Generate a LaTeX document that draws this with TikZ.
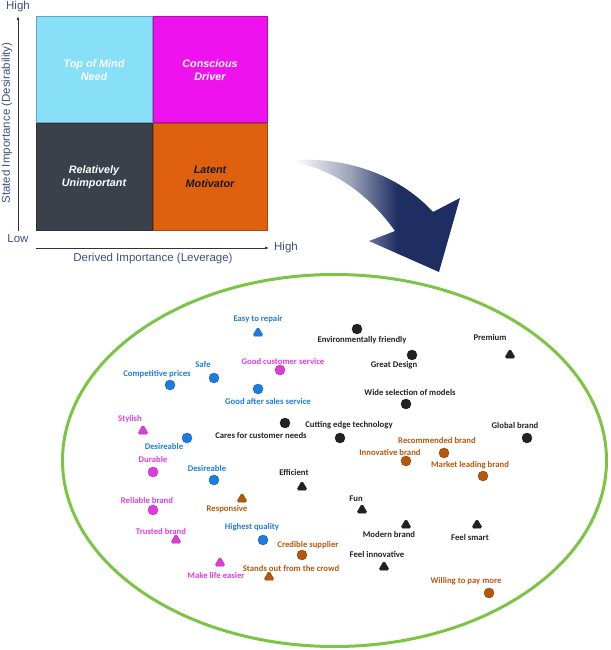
\documentclass[tikz,border=0pt]{standalone}
\usepackage{fontspec}
\setmainfont{Liberation Sans}
\newfontfamily\calib{Carlito}
\usetikzlibrary{shapes.geometric,arrows.meta}
\definecolor{axisblue}{HTML}{3E5082}
\definecolor{axisline}{HTML}{333333}
\definecolor{cellcyan}{HTML}{87DFF8}
\definecolor{cellmag}{HTML}{EE12EE}
\definecolor{celldark}{HTML}{3A414A}
\definecolor{cellorange}{HTML}{DF600F}
\definecolor{arrownavy}{HTML}{1E2E62}
\definecolor{ellgreen}{HTML}{7CC443}
\definecolor{ptblue}{HTML}{1C7DE0}
\definecolor{ptmag}{HTML}{E03CDC}
\definecolor{ptorange}{HTML}{B5580C}
\definecolor{ptblack}{HTML}{222222}
\pgfdeclarehorizontalshading{arrowshade}{100bp}{color(0bp)=(white); color(25bp)=(white); color(42bp)=(arrownavy!45); color(56bp)=(arrownavy); color(100bp)=(arrownavy)}
\tikzset{
  cell/.style={fill=#1, draw=#1!75!black, line width=1pt, inner sep=0pt, align=center,
    font=\fontsize{10.8}{13.5}\selectfont\bfseries\itshape},
  axislab/.style={text=axisblue, font=\fontsize{11.5}{13}\selectfont, inner sep=0pt},
  lab/.style={text=#1, font=\calib\bfseries\fontsize{8.7}{10}\selectfont, inner sep=0pt},
  circ/.style={circle, fill=#1, draw=#1!75!black, line width=0.4pt, minimum size=10pt, inner sep=0pt},
  tri/.style={regular polygon, regular polygon sides=3, fill=#1, draw=#1!75!black, line width=0.4pt,
    minimum size=12.5pt, inner sep=0pt, rounded corners=1.8pt},
}
\begin{document}
\begin{tikzpicture}[x=1pt, y=-1pt]
\useasboundingbox (0,0) rectangle (610,650);
% ---------- matrix ----------
\node[cell=cellcyan, minimum width=116pt, minimum height=106pt, text=white] (tl) at (94,70) {Top of Mind\\Need};
\node[cell=cellmag, minimum width=114pt, minimum height=106pt, text=white] (tr) at (210,70) {Conscious\\Driver};
\node[cell=celldark, minimum width=116pt, minimum height=106pt, text=white] (bl) at (94,177) {Relatively\\Unimportant};
\node[cell=cellorange, minimum width=114pt, minimum height=106pt, text=black!90] (br) at (210,177) {Latent\\Motivator};
% axes
\coordinate (vbot) at (18,231);
\coordinate (vtop) at (18,16);
\coordinate (hleft) at (36,248);
\coordinate (hright) at (269,248);
\draw[axisline, line width=0.9pt, -{Latex[length=4pt,width=3pt]}] (vbot) -- (vtop);
\draw[axisline, line width=0.9pt, -{Latex[length=4pt,width=3pt]}] (hleft) -- (hright);
\node[axislab] (high1) at (18,7) {High};
\node[axislab] (low) at (18,239) {Low};
\node[axislab] (high2) at (286,248) {High};
\node[axislab] (xlab) at (153,259) {Derived Importance (Leverage)};
\node[axislab, rotate=90] (ylab) at (7,123) {Stated Importance (Desirability)};
% ---------- curved arrow ----------
\shade[shading=arrowshade]
  (295,160) .. controls (352,157) and (402,178) .. (433,212)
  -- (460,198) -- (439,272) -- (369,241) -- (395,231)
  .. controls (370,196) and (335,170) .. (297,163) -- cycle;
% ---------- ellipse ----------
\draw[ellgreen, line width=3pt] (334.5,460.5) ellipse [x radius=272pt, y radius=186pt];
% ---------- points ----------
\node[tri=ptblue] (p1) at (258,333) {};
\node[lab=ptblue] (l1) at (258,319) {Easy to repair};
\node[circ=ptblue] (p2) at (214,378) {};
\node[lab=ptblue] (l2) at (203,365) {Safe};
\node[circ=ptblue] (p3) at (170,385) {};
\node[lab=ptblue] (l3) at (157,374) {Competitive prices};
\node[circ=ptmag] (p4) at (280,370) {};
\node[lab=ptmag] (l4) at (283,361) {Good customer service};
\node[circ=ptblue] (p5) at (258,389) {};
\node[lab=ptblue] (l5) at (268,401) {Good after sales service};
\node[tri=ptmag] (p6) at (143,431) {};
\node[lab=ptmag] (l6) at (130,419) {Stylish};
\node[circ=ptblue] (p7) at (187,438) {};
\node[lab=ptblue] (l7) at (164,446) {Desireable};
\node[circ=ptblack] (p8) at (285,423) {};
\node[lab=ptblack] (l8) at (261,435) {Cares for customer needs};
\node[circ=ptblack] (p9) at (340,438) {};
\node[lab=ptblack] (l9) at (349,425) {Cutting edge technology};
\node[circ=ptmag] (p10) at (153,472) {};
\node[lab=ptmag] (l10) at (153,459) {Durable};
\node[circ=ptblue] (p11) at (214,480) {};
\node[lab=ptblue] (l11) at (207,468) {Desireable};
\node[tri=ptblack] (p12) at (302,487) {};
\node[lab=ptblack] (l12) at (294,472) {Efficient};
\node[circ=ptblack] (p13) at (357,329) {};
\node[lab=ptblack] (l13) at (362,340) {Environmentally friendly};
\node[circ=ptblack] (p14) at (412,355) {};
\node[lab=ptblack] (l14) at (394,365) {Great Design};
\node[tri=ptblack] (p15) at (510,355) {};
\node[lab=ptblack] (l15) at (490,337) {Premium};
\node[circ=ptblack] (p16) at (406,404) {};
\node[lab=ptblack] (l16) at (410,392) {Wide selection of models};
\node[circ=ptblack] (p17) at (527,438) {};
\node[lab=ptblack] (l17) at (515,425) {Global brand};
\node[circ=ptorange] (p18) at (444,453) {};
\node[lab=ptorange] (l18) at (437,440) {Recommended brand};
\node[circ=ptorange] (p19) at (406,461) {};
\node[lab=ptorange] (l19) at (390,452) {Innovative brand};
\node[circ=ptorange] (p20) at (483,476) {};
\node[lab=ptorange] (l20) at (470,465) {Market leading brand};
\node[circ=ptmag] (p21) at (153,510) {};
\node[lab=ptmag] (l21) at (147,500) {Reliable brand};
\node[tri=ptorange] (p22) at (242,499) {};
\node[lab=ptorange] (l22) at (227,509) {Responsive};
\node[tri=ptmag] (p23) at (176,540) {};
\node[lab=ptmag] (l23) at (161,531) {Trusted brand};
\node[circ=ptblue] (p24) at (263,540) {};
\node[lab=ptblue] (l24) at (252,527) {Highest quality};
\node[circ=ptorange] (p25) at (302,555) {};
\node[lab=ptorange] (l25) at (308,545) {Credible supplier};
\node[tri=ptmag] (p26) at (220,563) {};
\node[lab=ptmag] (l26) at (216,575) {Make life easier};
\node[tri=ptorange] (p27) at (269,577) {};
\node[lab=ptorange] (l27) at (291,568) {Stands out from the crowd};
\node[tri=ptblack] (p28) at (362,510) {};
\node[lab=ptblack] (l28) at (356,499) {Fun};
\node[tri=ptblack] (p29) at (406,525) {};
\node[lab=ptblack] (l29) at (389,534) {Modern brand};
\node[tri=ptblack] (p30) at (477,525) {};
\node[lab=ptblack] (l30) at (470,537) {Feel smart};
\node[tri=ptblack] (p31) at (384,567) {};
\node[lab=ptblack] (l31) at (377,554) {Feel innovative};
\node[circ=ptorange] (p32) at (489,593) {};
\node[lab=ptorange] (l32) at (466,581) {Willing to pay more};
\end{tikzpicture}
\end{document}
